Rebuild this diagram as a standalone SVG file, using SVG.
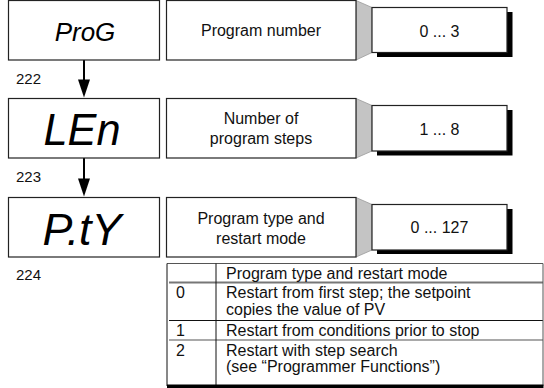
<svg xmlns="http://www.w3.org/2000/svg" width="544" height="388" viewBox="0 0 544 388">
<style>
.box{fill:#fff;stroke:#222;stroke-width:1.2}
.disp{font-family:"Liberation Sans",Arial,sans-serif;font-style:italic;fill:#000;text-anchor:middle}
.t{font-family:"Liberation Sans",Arial,sans-serif;font-size:16px;fill:#111;text-anchor:middle}
.lbl{font-family:"Liberation Sans",Arial,sans-serif;font-size:15px;fill:#111}
.tt{font-family:"Liberation Sans",Arial,sans-serif;font-size:16px;fill:#111}
.shadow{fill:#000}
.fan{fill:#c4c4c4;stroke:#9a9a9a;stroke-width:0.8}
.conn{stroke:#000;stroke-width:2;fill:none}
.head{fill:#000}
</style>

<g id="connectors">
<line class="conn" x1="84" y1="60" x2="84" y2="81" />
<path class="head" d="M78,79.5 L90,79.5 L84,97.5 Z"/>
<line class="conn" x1="84" y1="158" x2="84" y2="180" />
<path class="head" d="M78,178.5 L90,178.5 L84,196.5 Z"/>
<polygon class="fan" points="356,0.5 372,7.5 372,52.5 356,60"/>
<polygon class="fan" points="356,98.5 372,105.5 372,151 356,158"/>
<polygon class="fan" points="356,197.5 372,204.5 372,250 356,257"/>
</g>

<g id="node-prog">
<rect class="box" x="8.5" y="0.5" width="151" height="59.5"/>
<text class="disp" x="85" y="41" font-size="26">ProG</text>
</g>
<g id="node-len">
<rect class="box" x="8.5" y="98.5" width="151" height="59.5"/>
<text class="disp" x="82" y="145" font-size="44" textLength="77" lengthAdjust="spacingAndGlyphs">LEn</text>
</g>
<g id="node-pty">
<rect class="box" x="8.5" y="197.5" width="151" height="59.5"/>
<text class="disp" x="82" y="245" font-size="44" textLength="79" lengthAdjust="spacingAndGlyphs">P.tY</text>
</g>

<g id="labels">
<text class="lbl" x="16" y="83.5">222</text>
<text class="lbl" x="16" y="181.5">223</text>
<text class="lbl" x="16" y="280">224</text>
</g>

<g id="desc-prog">
<rect class="box" x="166.5" y="0.5" width="189.5" height="59.5"/>
<text class="t" x="261" y="36">Program number</text>
</g>
<g id="desc-len">
<rect class="box" x="166.5" y="98.5" width="189.5" height="59.5"/>
<text class="t" x="261" y="124">Number of</text>
<text class="t" x="261" y="144">program steps</text>
</g>
<g id="desc-pty">
<rect class="box" x="166.5" y="197.5" width="189.5" height="59.5"/>
<text class="t" x="261" y="223.5">Program type and</text>
<text class="t" x="261" y="243.5">restart mode</text>
</g>

<g id="val-prog">
<rect class="shadow" x="377" y="12" width="135.5" height="45"/>
<rect class="box" x="372" y="7.5" width="135" height="45"/>
<text class="t" x="439.5" y="36.5">0 ... 3</text>
</g>
<g id="val-len">
<rect class="shadow" x="377" y="110" width="135.5" height="45.5"/>
<rect class="box" x="372" y="105.5" width="135" height="45.5"/>
<text class="t" x="439.5" y="135">1 ... 8</text>
</g>
<g id="val-pty">
<rect class="shadow" x="377" y="209" width="135.5" height="45"/>
<rect class="box" x="372" y="204.5" width="135" height="45.5"/>
<text class="t" x="439.5" y="233.3">0 ... 127</text>
</g>

<g id="table">
<line x1="167" y1="263.5" x2="543" y2="263.5" stroke="#555" stroke-width="1"/>
<line x1="169" y1="282.5" x2="543" y2="282.5" stroke="#777" stroke-width="1.8"/>
<line x1="169" y1="320.5" x2="543" y2="320.5" stroke="#111" stroke-width="1.2"/>
<line x1="169" y1="340" x2="543" y2="340" stroke="#555" stroke-width="1.2"/>
<line x1="167" y1="263.5" x2="167" y2="386" stroke="#111" stroke-width="1"/>
<line x1="216" y1="263.5" x2="216" y2="386" stroke="#111" stroke-width="1"/>
<line x1="543" y1="263.5" x2="543" y2="386" stroke="#555" stroke-width="1"/>
<rect x="167" y="384.5" width="376.5" height="3.5" fill="#000"/>
<text class="tt" x="226" y="278.5">Program type and restart mode</text>
<text class="tt" x="176" y="298">0</text>
<text class="tt" x="226" y="298">Restart from first step; the setpoint</text>
<text class="tt" x="226" y="314.5">copies the value of PV</text>
<text class="tt" x="176" y="336">1</text>
<text class="tt" x="226" y="336">Restart from conditions prior to stop</text>
<text class="tt" x="176" y="355.5">2</text>
<text class="tt" x="226" y="355.5">Restart with step search</text>
<text class="tt" x="226" y="372">(see “Programmer Functions”)</text>
</g>
</svg>
